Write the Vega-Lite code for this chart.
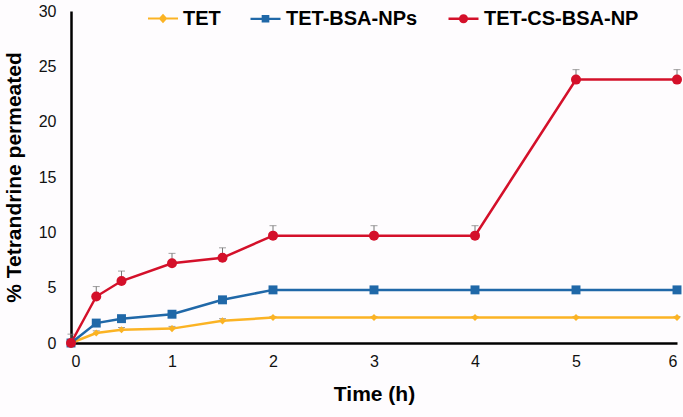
{
  "$schema": "https://vega.github.io/schema/vega-lite/v6.json",
  "width": 606,
  "height": 332,
  "autosize": "none",
  "padding": {"left": 71, "top": 11, "right": 6, "bottom": 74},
  "background": "#fefcfe",
  "config": {
    "view": {"stroke": null},
    "font": "Liberation Sans",
    "axis": {"grid": false, "domainColor": "#000", "domainWidth": 2.5, "ticks": false, "labelFont": "Liberation Sans", "labelFontSize": 16, "labelColor": "#111", "titleFont": "Liberation Sans", "titleFontSize": 21, "titleFontWeight": "bold", "titleColor": "#000"}
  },
  "data": {"values": [
    {"t": 0, "s": "TET", "v": 0, "u": 0.2},
    {"t": 0.25, "s": "TET", "v": 0.9, "u": 1.1},
    {"t": 0.5, "s": "TET", "v": 1.2, "u": 1.4},
    {"t": 1, "s": "TET", "v": 1.3, "u": 1.5},
    {"t": 1.5, "s": "TET", "v": 2.0, "u": 2.2},
    {"t": 2, "s": "TET", "v": 2.3, "u": 2.4},
    {"t": 3, "s": "TET", "v": 2.3, "u": 2.4},
    {"t": 4, "s": "TET", "v": 2.3, "u": 2.4},
    {"t": 5, "s": "TET", "v": 2.3, "u": 2.4},
    {"t": 6, "s": "TET", "v": 2.3, "u": 2.4},
    {"t": 0, "s": "TET-BSA-NPs", "v": 0, "u": 0.3},
    {"t": 0.25, "s": "TET-BSA-NPs", "v": 1.8, "u": 1.9},
    {"t": 0.5, "s": "TET-BSA-NPs", "v": 2.2, "u": 2.3},
    {"t": 1, "s": "TET-BSA-NPs", "v": 2.6, "u": 2.7},
    {"t": 1.5, "s": "TET-BSA-NPs", "v": 3.9, "u": 4.0},
    {"t": 2, "s": "TET-BSA-NPs", "v": 4.8, "u": 4.9},
    {"t": 3, "s": "TET-BSA-NPs", "v": 4.8, "u": 4.9},
    {"t": 4, "s": "TET-BSA-NPs", "v": 4.8, "u": 4.9},
    {"t": 5, "s": "TET-BSA-NPs", "v": 4.8, "u": 4.9},
    {"t": 6, "s": "TET-BSA-NPs", "v": 4.8, "u": 4.9},
    {"t": 0, "s": "TET-CS-BSA-NP", "v": 0, "u": 0.8},
    {"t": 0.25, "s": "TET-CS-BSA-NP", "v": 4.2, "u": 5.1},
    {"t": 0.5, "s": "TET-CS-BSA-NP", "v": 5.6, "u": 6.5},
    {"t": 1, "s": "TET-CS-BSA-NP", "v": 7.2, "u": 8.1},
    {"t": 1.5, "s": "TET-CS-BSA-NP", "v": 7.7, "u": 8.6},
    {"t": 2, "s": "TET-CS-BSA-NP", "v": 9.7, "u": 10.6},
    {"t": 3, "s": "TET-CS-BSA-NP", "v": 9.7, "u": 10.6},
    {"t": 4, "s": "TET-CS-BSA-NP", "v": 9.7, "u": 10.6},
    {"t": 5, "s": "TET-CS-BSA-NP", "v": 23.8, "u": 24.7},
    {"t": 6, "s": "TET-CS-BSA-NP", "v": 23.8, "u": 24.7}
  ]},
  "encoding": {
    "x": {"field": "t", "type": "quantitative", "scale": {"domain": [0, 6], "nice": false}, "axis": {"title": "Time (h)", "values": [0, 1, 2, 3, 4, 5, 6], "labelPadding": 10, "titlePadding": 14}},
    "y": {"field": "v", "type": "quantitative", "scale": {"domain": [0, 30], "nice": false}, "axis": {"title": "% Tetrandrine permeated", "values": [0, 5, 10, 15, 20, 25, 30], "labelPadding": 15, "titlePadding": 14}}
  },
  "layer": [
    {
      "mark": {"type": "rule", "color": "#777", "strokeWidth": 1},
      "encoding": {"y2": {"field": "u"}}
    },
    {
      "mark": {"type": "tick", "color": "#777", "orient": "horizontal", "size": 7, "thickness": 1},
      "encoding": {"y": {"field": "u", "type": "quantitative"}}
    },
    {
      "mark": {"type": "line", "strokeWidth": 2.5},
      "encoding": {
        "color": {"field": "s", "type": "nominal", "scale": {"domain": ["TET", "TET-BSA-NPs", "TET-CS-BSA-NP"], "range": ["#fbb324", "#2068a8", "#d4102a"]},
          "legend": {"title": null, "orient": "none", "legendX": 76, "legendY": -9, "direction": "horizontal", "labelFontSize": 20, "labelFontWeight": "bold", "labelColor": "#000", "labelFont": "Liberation Sans", "symbolSize": 900, "symbolStrokeWidth": 2.5, "columnPadding": 25, "labelOffset": 4,
            "encode": {"symbols": {"update": {
              "shape": {"signal": "datum.value === 'TET' ? 'M-1,0H1M0,-0.22L0.2,0L0,0.22L-0.2,0Z' : datum.value === 'TET-BSA-NPs' ? 'M-1,0H1M-0.18,-0.18H0.18V0.18H-0.18Z' : 'M-1,0H1M-0.22,0A0.22,0.22 0 1,0 0.22,0A0.22,0.22 0 1,0 -0.22,0Z'"},
              "stroke": {"signal": "scale('color', datum.value)"},
              "fill": {"signal": "scale('color', datum.value)"},
              "size": {"value": 900},
              "strokeWidth": {"signal": "datum.value === 'TET-CS-BSA-NP' ? 3.5 : 2.5"},
              "opacity": {"value": 1}
            }}}}},
        "strokeWidth": {"field": "s", "type": "nominal", "scale": {"domain": ["TET", "TET-BSA-NPs", "TET-CS-BSA-NP"], "range": [2, 2.5, 3.5]}, "legend": null}
      }
    },
    {
      "transform": [{"filter": "datum.s === 'TET'"}],
      "mark": {"type": "point", "filled": true, "opacity": 1, "shape": "diamond", "size": 50},
      "encoding": {"color": {"field": "s", "type": "nominal"}}
    },
    {
      "transform": [{"filter": "datum.s === 'TET-BSA-NPs'"}],
      "mark": {"type": "point", "filled": true, "opacity": 1, "shape": "square", "size": 80},
      "encoding": {"color": {"field": "s", "type": "nominal"}}
    },
    {
      "transform": [{"filter": "datum.s === 'TET-CS-BSA-NP'"}],
      "mark": {"type": "point", "filled": true, "opacity": 1, "shape": "circle", "size": 100},
      "encoding": {"color": {"field": "s", "type": "nominal"}}
    }
  ]
}
